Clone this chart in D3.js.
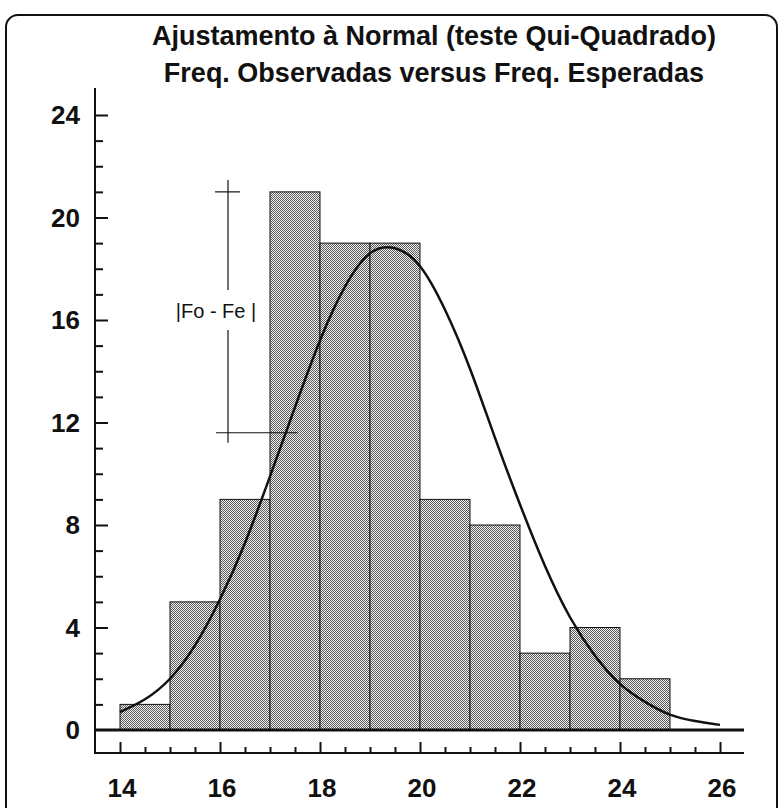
<!DOCTYPE html>
<html>
<head>
<meta charset="utf-8">
<script src="https://cdn.jsdelivr.net/npm/d3@7"></script>
<style>
  body { margin: 0; background: #fff; }
  text { font-family: "Liberation Sans", Arial, sans-serif; }
</style>
</head>
<body>
<div id="chart"></div>
<script>
// bins (lower edges) and observed frequencies
var binStarts = [14, 15, 16, 17, 18, 19, 20, 21, 22, 23, 24];
var observed = [1, 5, 9, 21, 19, 19, 9, 8, 3, 4, 2];

// expected frequency curve
var curveX = [14, 14.5, 15, 15.5, 16, 16.5, 17, 17.5, 18, 18.5, 19, 19.5, 20,
  20.5, 21, 21.5, 22, 22.5, 23, 23.5, 24, 24.5, 25, 25.5, 26];
var curveY = [0.7, 1.2, 2.0, 3.3, 5.1, 7.3, 9.9, 12.6, 15.2, 17.3, 18.6, 18.8, 18.1,
  16.4, 14.1, 11.4, 8.8, 6.4, 4.4, 2.9, 1.8, 1.1, 0.6, 0.35, 0.2];

var xTicks = [14, 16, 18, 20, 22, 24, 26];
var yTicks = [0, 4, 8, 12, 16, 20, 24];

// |Fo - Fe| marker
var markX = 16.16;
var markFo = 21;
var markFe = 11.6;

var titleLines = ["Ajustamento à Normal (teste Qui-Quadrado)",
  "Freq. Observadas versus Freq. Esperadas"];

var svgWidth = 782;
var svgHeight = 808;

var svg = d3.select("#chart")
  .append("svg")
  .attr("width", svgWidth)
  .attr("height", svgHeight);

// stipple fill for the bars
var pat = svg.append("defs").append("pattern")
  .attr("id", "stipple")
  .attr("patternUnits", "userSpaceOnUse")
  .attr("width", 2)
  .attr("height", 2);
pat.append("rect").attr("width", 2).attr("height", 2).attr("fill", "#f2f2f2");
pat.append("rect").attr("width", 1).attr("height", 1).attr("fill", "#5a5a5a");
pat.append("rect").attr("x", 1).attr("y", 1).attr("width", 1).attr("height", 1).attr("fill", "#5a5a5a");

// frame
svg.append("rect")
  .attr("x", 6).attr("y", 15)
  .attr("width", 771).attr("height", 820)
  .attr("rx", 12)
  .attr("fill", "none")
  .attr("stroke", "#111")
  .attr("stroke-width", 2);

svg.selectAll(".title")
  .data(titleLines)
  .enter()
  .append("text")
  .attr("class", "title")
  .attr("x", 434)
  .attr("y", (d, i) => 45 + i * 37)
  .attr("text-anchor", "middle")
  .attr("font-size", 27)
  .attr("font-weight", "bold")
  .attr("fill", "#111")
  .text(d => d);

var x = d3.scaleLinear().domain([14, 26]).range([120, 720]);
var y = d3.scaleLinear().domain([0, 24]).range([730, 115]);

// bars
svg.selectAll(".bar")
  .data(binStarts)
  .enter()
  .append("rect")
  .attr("class", "bar")
  .attr("x", d => x(d))
  .attr("y", (d, i) => y(observed[i]))
  .attr("width", d => x(d + 1) - x(d))
  .attr("height", (d, i) => y(0) - y(observed[i]))
  .attr("fill", "url(#stipple)")
  .attr("stroke", "#111")
  .attr("stroke-width", 1);

// expected curve
var line = d3.line()
  .x(d => x(d[0]))
  .y(d => y(d[1]))
  .curve(d3.curveNatural);

svg.append("path")
  .datum(curveX.map((v, i) => [v, curveY[i]]))
  .attr("d", line)
  .attr("fill", "none")
  .attr("stroke", "#111")
  .attr("stroke-width", 2.5);

// y axis
var leftAxis = d3.axisRight(y)
  .tickValues(d3.range(1, 25))
  .tickSize(0)
  .tickFormat("");
var yAxisG = svg.append("g").attr("transform", "translate(95,0)").call(leftAxis);
yAxisG.select(".domain").remove();
yAxisG.selectAll(".tick line")
  .attr("x2", d => d % 4 === 0 ? 13 : 8)
  .attr("stroke", "#111")
  .attr("stroke-width", 2);

svg.append("line")
  .attr("x1", 95).attr("x2", 95)
  .attr("y1", 88).attr("y2", 754)
  .attr("stroke", "#111").attr("stroke-width", 2);

svg.selectAll(".ylab")
  .data(yTicks)
  .enter()
  .append("text")
  .attr("class", "ylab")
  .attr("x", 80)
  .attr("y", d => y(d) + 9)
  .attr("text-anchor", "end")
  .attr("font-size", 26)
  .attr("font-weight", "bold")
  .attr("fill", "#111")
  .text(d => d);

// zero line
svg.append("line")
  .attr("x1", 95).attr("x2", 744)
  .attr("y1", y(0)).attr("y2", y(0))
  .attr("stroke", "#111").attr("stroke-width", 3);

// x axis (ticks pointing up)
var bottomAxis = d3.axisTop(x)
  .tickValues(d3.range(14, 26.01, 0.5))
  .tickSize(0)
  .tickFormat("");
var xAxisG = svg.append("g").attr("transform", "translate(0,753)").call(bottomAxis);
xAxisG.select(".domain").remove();
xAxisG.selectAll(".tick line")
  .attr("y2", d => d % 2 === 0 ? -11 : -6)
  .attr("stroke", "#111")
  .attr("stroke-width", 2);

svg.append("line")
  .attr("x1", 95).attr("x2", 744)
  .attr("y1", 753).attr("y2", 753)
  .attr("stroke", "#111").attr("stroke-width", 2);

svg.selectAll(".xlab")
  .data(xTicks)
  .enter()
  .append("text")
  .attr("class", "xlab")
  .attr("x", d => x(d) + 2)
  .attr("y", 797)
  .attr("text-anchor", "middle")
  .attr("font-size", 26)
  .attr("font-weight", "bold")
  .attr("fill", "#111")
  .text(d => d);

// |Fo - Fe| annotation
var mark = svg.append("g").attr("stroke", "#111").attr("stroke-width", 1.2);
mark.append("line")
  .attr("x1", x(markX)).attr("x2", x(markX))
  .attr("y1", y(markFo) - 12).attr("y2", 290);
mark.append("line")
  .attr("x1", x(markX)).attr("x2", x(markX))
  .attr("y1", 330).attr("y2", y(markFe) + 10);
mark.append("line")
  .attr("x1", x(markX) - 13).attr("x2", x(markX) + 12)
  .attr("y1", y(markFo)).attr("y2", y(markFo));
mark.append("line")
  .attr("x1", x(markX) - 12).attr("x2", x(17.55))
  .attr("y1", y(markFe)).attr("y2", y(markFe));

svg.append("text")
  .attr("x", 216)
  .attr("y", 318)
  .attr("text-anchor", "middle")
  .attr("font-size", 20)
  .attr("fill", "#111")
  .text("|Fo - Fe |");
</script>
</body>
</html>
